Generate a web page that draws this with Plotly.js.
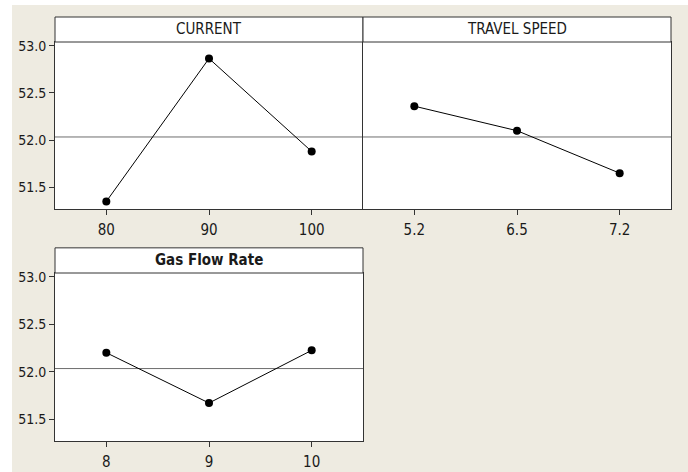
<!DOCTYPE html>
<html>
<head>
<meta charset="utf-8">
<script src="https://cdn.plot.ly/plotly-3.0.1.min.js"></script>
<style>html,body{margin:0;padding:0;background:#fff;}#chart{width:688px;height:472px;}</style>
</head>
<body>
<div id="chart"></div>
<script>
// ---- data (Main effects plot for means) ----
const currentLevels = ["80", "90", "100"];
const currentMeans = [51.35, 52.865, 51.88];

const speedLevels = ["5.2", "6.5", "7.2"];
const speedMeans = [52.36, 52.10, 51.65];

const gasLevels = ["8", "9", "10"];
const gasMeans = [52.20, 51.67, 52.225];

const panelTitles = ["CURRENT", "TRAVEL SPEED", "Gas Flow Rate"];
const yTickValues = [51.5, 52.0, 52.5, 53.0];
const yRange = [51.27, 53.04];

const grandMean = currentMeans.concat(speedMeans, gasMeans).reduce((a, b) => a + b, 0) / 9;

const W = 688, H = 472;
const BG = '#eeebe1';
const EDGE = '#333333';
const TXT = '#1a1a1a';
const YFONT = {family: 'DejaVu Sans Condensed, DejaVu Sans, sans-serif', size: 14, color: TXT};
const XFONT = {family: 'DejaVu Sans Condensed, DejaVu Sans, sans-serif', size: 15, color: TXT};
const TFONT = {family: 'DejaVu Sans Condensed, DejaVu Sans, sans-serif', size: 15, color: TXT};

function trace(x, y, xa, ya) {
  return {
    x: x, y: y, xaxis: xa, yaxis: ya, type: 'scatter', mode: 'lines+markers',
    line: {color: '#000000', width: 1},
    marker: {color: '#000000', size: 8, symbol: 'circle'},
    hoverinfo: 'skip', showlegend: false
  };
}

const data = [
  trace(currentLevels, currentMeans, 'x', 'y'),
  trace(speedLevels, speedMeans, 'x2', 'y2'),
  trace(gasLevels, gasMeans, 'x3', 'y3')
];

function xAxis(domain, anchor) {
  return {
    domain: domain, anchor: anchor, type: 'category', range: [-0.5, 2.5],
    showgrid: false, zeroline: false, showline: true, mirror: true,
    linecolor: EDGE, linewidth: 1, ticks: 'outside', ticklen: 5, tickcolor: EDGE,
    ticklabelstandoff: 2,
    tickfont: XFONT, fixedrange: true
  };
}
function yAxis(domain, anchor, showLabels, mirror) {
  return {
    domain: domain, anchor: anchor, range: yRange,
    tickvals: yTickValues, tickformat: '.1f',
    showticklabels: showLabels,
    showgrid: false, zeroline: false, showline: true, mirror: mirror,
    linecolor: EDGE, linewidth: 1,
    ticks: showLabels ? 'outside' : '', ticklen: 5, tickcolor: EDGE,
    tickfont: YFONT, fixedrange: true
  };
}

const colA = [55 / W, 363 / W];
const colB = [363 / W, 671 / W];
const rowTop = [(H - 209) / H, (H - 42) / H];
const rowBot = [(H - 441) / H, (H - 273) / H];
const stripFrac = 25 / 167;

const shapes = [
  // white outer border of the original image
  {type: 'rect', xref: 'paper', yref: 'paper', x0: 0, x1: 12 / W, y0: 0, y1: 1,
   fillcolor: '#ffffff', line: {width: 0}, layer: 'below'},
  {type: 'rect', xref: 'paper', yref: 'paper', x0: 0, x1: 1, y0: (H - 5) / H, y1: 1,
   fillcolor: '#ffffff', line: {width: 0}, layer: 'below'}
];
const annotations = [];
const axes = [['x', 'y'], ['x2', 'y2'], ['x3', 'y3']];
axes.forEach(function (p, i) {
  shapes.push({
    type: 'rect', xref: p[0] + ' domain', yref: p[1] + ' domain',
    x0: 0, x1: 1, y0: 1, y1: 1 + stripFrac,
    fillcolor: '#ffffff', line: {color: EDGE, width: 1}
  });
  shapes.push({
    type: 'line', xref: p[0] + ' domain', yref: p[1],
    x0: 0, x1: 1, y0: grandMean, y1: grandMean,
    line: {color: '#6e6e6e', width: 1}, layer: 'below'
  });
  annotations.push({
    xref: p[0] + ' domain', yref: p[1] + ' domain',
    x: 0.5, y: 1 + stripFrac / 2, xanchor: 'center', yanchor: 'middle',
    showarrow: false, text: i === 2 ? '<b>' + panelTitles[i] + '</b>' : panelTitles[i],
    font: TFONT
  });
});

const layout = {
  width: W, height: H,
  margin: {l: 0, r: 0, t: 0, b: 0},
  paper_bgcolor: BG, plot_bgcolor: '#ffffff',
  font: YFONT,
  showlegend: false,
  xaxis: xAxis(colA, 'y'),
  yaxis: yAxis(rowTop, 'x', true, false),
  xaxis2: xAxis(colB, 'y2'),
  yaxis2: yAxis(rowTop, 'x2', false, true),
  xaxis3: xAxis(colA, 'y3'),
  yaxis3: yAxis(rowBot, 'x3', true, true),
  shapes: shapes,
  annotations: annotations
};

Plotly.newPlot('chart', data, layout, {displayModeBar: false, staticPlot: true});
</script>
</body>
</html>
